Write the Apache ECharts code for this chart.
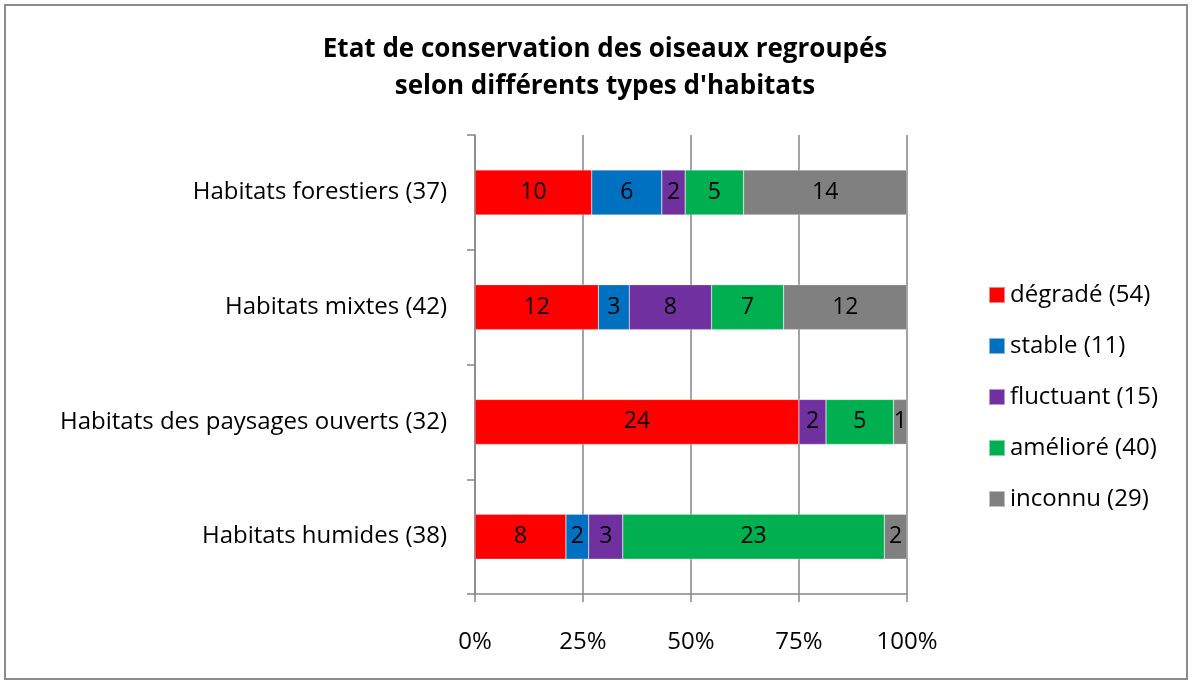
<!DOCTYPE html>
<html>
<head>
<meta charset="utf-8">
<script src="https://cdn.jsdelivr.net/npm/echarts@6/dist/echarts.min.js"></script>
<style>
html, body { margin: 0; padding: 0; background: #fff; }
#chart { width: 1196px; height: 684px; }
.frame { position: absolute; left: 4px; top: 4px; width: 1184px; height: 676px; border: 2px solid #8c8c8c; box-sizing: border-box; pointer-events: none; }
</style>
</head>
<body>
<div id="chart"></div>
<div class="frame"></div>
<script>
// categories (top to bottom)
const habitats = ['Habitats forestiers (37)', 'Habitats mixtes (42)', 'Habitats des paysages ouverts (32)', 'Habitats humides (38)']

// number of species per status, one value per habitat
const degrade = [10, 12, 24, 8]
const stable = [6, 3, 0, 2]
const fluctuant = [2, 8, 2, 3]
const ameliore = [5, 7, 5, 23]
const inconnu = [14, 12, 1, 2]

const statusNames = ['dégradé', 'stable', 'fluctuant', 'amélioré', 'inconnu']
const statusColors = ['#ff0000', '#0070c0', '#7030a0', '#00b050', '#808080']
const xTicks = [0, 25, 50, 75, 100]

const groups = [degrade, stable, fluctuant, ameliore, inconnu]
const totals = habitats.map((h, i) => groups.reduce((s, g) => s + g[i], 0))
const sum = (arr) => arr.reduce((a, b) => a + b, 0)

const font = '"Open Sans", "Noto Sans", sans-serif'

const series = groups.map((g, k) => ({
	name: statusNames[k] + ' (' + sum(g) + ')',
	type: 'bar',
	stack: 'total',
	barWidth: 45,
	itemStyle: { color: statusColors[k], borderColor: 'rgba(255,255,255,0.5)', borderWidth: 0.5 },
	label: {
		show: true,
		position: 'inside',
		color: '#000',
		fontFamily: font,
		fontSize: 23,
		formatter: (p) => (g[p.dataIndex] ? String(g[p.dataIndex]) : ''),
	},
	data: g.map((v, i) => (v / totals[i]) * 100),
}))

const myChart = echarts.init(document.getElementById('chart'))
const option = {
	backgroundColor: '#fff',
	animation: false,
	title: {
		text: 'Etat de conservation des oiseaux regroupés\nselon différents types d\'habitats',
		left: 600,
		textAlign: 'center',
		top: 26,
		textStyle: { fontFamily: font, fontWeight: 'bold', fontSize: 26, lineHeight: 37, color: '#000' },
	},
	legend: {
		orient: 'vertical',
		left: 983,
		top: 278,
		itemWidth: 16,
		itemHeight: 16,
		itemGap: 27,
		icon: 'rect',
		textStyle: { fontFamily: font, fontSize: 24, lineHeight: 24, color: '#000' },
	},
	grid: { left: 475, right: 289, top: 135, bottom: 90 },
	xAxis: {
		type: 'value',
		min: xTicks[0],
		max: xTicks[xTicks.length - 1],
		interval: 25,
		axisLine: { show: true, lineStyle: { color: '#868686', width: 1.5 } },
		axisTick: { show: true, length: 8, lineStyle: { color: '#868686', width: 1.5 } },
		axisLabel: { formatter: '{value}%', fontFamily: font, fontSize: 24, color: '#000', margin: 36 },
		splitLine: { show: true, lineStyle: { color: '#868686', width: 1.5 } },
	},
	yAxis: {
		type: 'category',
		inverse: true,
		data: habitats,
		axisLine: { show: true, lineStyle: { color: '#868686', width: 1.5 } },
		axisTick: { show: true, length: 8, lineStyle: { color: '#868686', width: 1.5 } },
		axisLabel: { fontFamily: font, fontSize: 24, color: '#000', margin: 28 },
	},
	series,
}
option && myChart.setOption(option)
</script>
</body>
</html>
